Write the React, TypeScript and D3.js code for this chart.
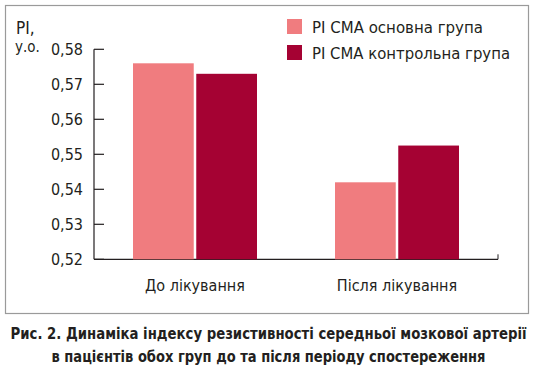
import React from 'react';
import * as d3 from 'd3';

const categories = ['До лікування', 'Після лікування'];
const seriesNames = ['PI CMA основна група', 'PI CMA контрольна група'];
const mainGroup = [0.576, 0.542];
const controlGroup = [0.573, 0.5525];
const yTicks = [0.52, 0.53, 0.54, 0.55, 0.56, 0.57, 0.58];
const colors = ['#f07c7f', '#a50233'];
const captionLines = [
  'Рис. 2. Динаміка індексу резистивності середньої мозкової артерії',
  'в пацієнтів обох груп до та після періоду спостереження',
];

const W = 535;
const H = 370;
const font = '"DejaVu Sans Condensed", "Liberation Sans Narrow", "Roboto", sans-serif';
const ink = '#231f20';
// measured widths in the reference
const legendWidths = [171, 198];
const captionWidths = [516, 434];

const App = () => {
  const x = d3.scaleBand().domain(categories).range([94, 498]);
  const x1 = d3.scaleBand().domain(seriesNames).range([0, 124]).paddingInner(0.04);
  const y = d3.scaleLinear().domain([0.52, 0.58]).range([259.3, 49.3]);
  const series = [mainGroup, controlGroup];
  const fmt = (v: number) => d3.format('.2f')(v).replace('.', ',');

  return (
    <div style={{ position: 'fixed', left: 0, top: 0 }}>
      <svg width={W} height={H} style={{ display: 'block', background: '#fff' }}>
        <rect x={5.5} y={5.5} width={523} height={308} fill="none" stroke="#9a9a9a" strokeWidth={1.2} />

        {/* axes */}
        <line x1={94} x2={94} y1={y(0.58)} y2={y(0.52)} stroke={ink} strokeWidth={1.2} />
        <line x1={94} x2={498} y1={y(0.52)} y2={y(0.52)} stroke={ink} strokeWidth={1.2} />
        <line x1={498} x2={498} y1={y(0.52)} y2={y(0.52) - 5} stroke={ink} strokeWidth={1} />
        {yTicks.map(t => (
          <g key={t}>
            <line x1={94} x2={104} y1={y(t)} y2={y(t)} stroke={ink} strokeWidth={1.2} />
            <text x={83} y={y(t) + 5.5} textAnchor="end" fontFamily={font} fontSize={16} fill={ink}>
              {fmt(t)}
            </text>
          </g>
        ))}
        <text x={16} y={34} fontFamily={font} fontSize={17} fill={ink}>PI,</text>
        <text x={15} y={52} fontFamily={font} fontSize={15} fill={ink}>у.о.</text>

        {/* bars */}
        {categories.map((c, i) => (
          <g key={c} transform={`translate(${(x(c) as number) + x.bandwidth() / 2 - 62},0)`}>
            {series.map((s, j) => (
              <rect
                key={j}
                x={x1(seriesNames[j]) as number}
                y={y(s[i])}
                width={x1.bandwidth()}
                height={y(0.52) - y(s[i])}
                fill={colors[j]}
              />
            ))}
          </g>
        ))}
        {categories.map(c => (
          <text
            key={c}
            x={(x(c) as number) + x.bandwidth() / 2}
            y={291}
            textAnchor="middle"
            fontFamily={font}
            fontSize={16}
            fill={ink}
          >
            {c}
          </text>
        ))}

        {/* legend */}
        {seriesNames.map((n, j) => (
          <g key={n} transform={`translate(287,${19 + j * 26})`}>
            <rect width={15} height={15} fill={colors[j]} />
            <text
              x={25}
              y={14}
              fontFamily={font}
              fontSize={16}
              fill={ink}
              textLength={legendWidths[j]}
              lengthAdjust="spacingAndGlyphs"
            >
              {n}
            </text>
          </g>
        ))}

        {/* caption */}
        {captionLines.map((l, i) => (
          <text
            key={i}
            x={W / 2 + 1}
            y={339 + i * 23}
            textAnchor="middle"
            fontFamily={font}
            fontSize={15}
            fontWeight="bold"
            fill={ink}
            textLength={captionWidths[i]}
            lengthAdjust="spacingAndGlyphs"
          >
            {l}
          </text>
        ))}
      </svg>
    </div>
  );
};

export default App;
